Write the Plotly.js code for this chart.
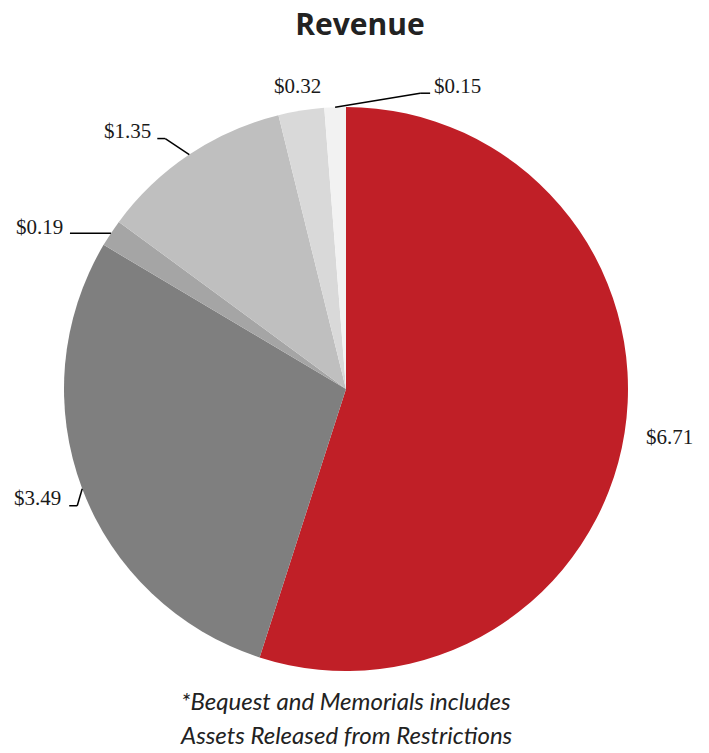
<!DOCTYPE html>
<html><head><meta charset="utf-8">
<script src="https://cdn.plot.ly/plotly-3.0.1.min.js"></script>
<style>html,body{margin:0;padding:0;background:#fff}</style></head>
<body>
<div id="chart" style="width:709px;height:753px"></div>
<script>
// ---- data ----
const categories = ['Segment 1','Segment 2','Segment 3','Segment 4','Segment 5','Segment 6'];
const values = [6.71, 3.49, 0.19, 1.35, 0.32, 0.15];
const valueLabels = ['$6.71', '$3.49', '$0.19', '$1.35', '$0.32', '$0.15'];
const chartTitle = 'Revenue';
const footnoteLines = ['*Bequest and Memorials includes', 'Assets Released from Restrictions'];

// ---- styling / layout ----
const colors = ['#C01F27', '#7F7F7F', '#A5A5A5', '#BFBFBF', '#D9D9D9', '#F2F2F2'];
const W = 709, H = 753;
const C = {x: 346, y: 389}, R = 282;
// label offsets relative to the slice's outer edge midpoint (px)
const labelLayout = [
  {text: [45, 4], anchor: 'center'},
  {text: [-19, 9], anchor: 'right', leader: [[-5, 17], [-13, 17]]},
  {text: [-46, -6], anchor: 'right', leader: [[-41, 0]]},
  {text: [-36, -24], anchor: 'right', leader: [[-24, -16], [-32, -16]]},
  {text: [-4, -25], anchor: 'center'},
  {text: [97, -21], anchor: 'left', leader: [[85, -14], [95, -14]]}
];

const px = x => x / W, py = y => 1 - y / H;
const total = values.reduce((a, b) => a + b, 0);
const annotations = [], shapes = [];
let cum = 0;
values.forEach((v, i) => {
  const mid = (cum + v / 2) / total * 2 * Math.PI;
  cum += v;
  const P = {x: C.x + R * Math.sin(mid), y: C.y - R * Math.cos(mid)};
  const L = labelLayout[i];
  annotations.push({
    xref: 'paper', yref: 'paper', x: px(P.x + L.text[0]), y: py(P.y + L.text[1]),
    xanchor: L.anchor, yanchor: 'middle', showarrow: false, text: valueLabels[i],
    font: {family: 'Liberation Serif, serif', size: 21, color: '#1a1a1a'}
  });
  if (L.leader) {
    let prev = P;
    L.leader.forEach(o => {
      const q = {x: P.x + o[0], y: P.y + o[1]};
      shapes.push({type: 'line', xref: 'paper', yref: 'paper',
        x0: px(prev.x), y0: py(prev.y), x1: px(q.x), y1: py(q.y),
        line: {color: '#000', width: 1.5}});
      prev = q;
    });
  }
});

annotations.push({xref: 'paper', yref: 'paper', x: px(346), y: py(700), xanchor: 'center', yanchor: 'middle',
  showarrow: false, text: '<i>' + footnoteLines[0] + '</i>', font: {family: 'Lato, sans-serif', size: 24, color: '#222'}});
annotations.push({xref: 'paper', yref: 'paper', x: px(346), y: py(734), xanchor: 'center', yanchor: 'middle',
  showarrow: false, text: '<i>' + footnoteLines[1] + '</i>', font: {family: 'Lato, sans-serif', size: 24, color: '#222'}});

const trace = {
  type: 'pie', labels: categories, values: values, sort: false, direction: 'clockwise', rotation: 0,
  marker: {colors: colors, line: {width: 0}}, textinfo: 'none', hoverinfo: 'label+value',
  showlegend: false,
  domain: {x: [px(C.x - R), px(C.x + R)], y: [py(C.y + R), py(C.y - R)]}
};

const layout = {
  width: W, height: H, margin: {l: 0, r: 0, t: 0, b: 0},
  paper_bgcolor: '#fff', plot_bgcolor: '#fff', showlegend: false,
  title: {text: '<b>' + chartTitle + '</b>', x: 360 / W, xanchor: 'center', y: 1 - 24 / H, yanchor: 'middle',
    yref: 'container', font: {family: 'Open Sans, sans-serif', size: 30, color: '#222'}},
  annotations: annotations, shapes: shapes
};
Plotly.newPlot('chart', [trace], layout, {displayModeBar: false, staticPlot: true});
</script>
</body></html>
